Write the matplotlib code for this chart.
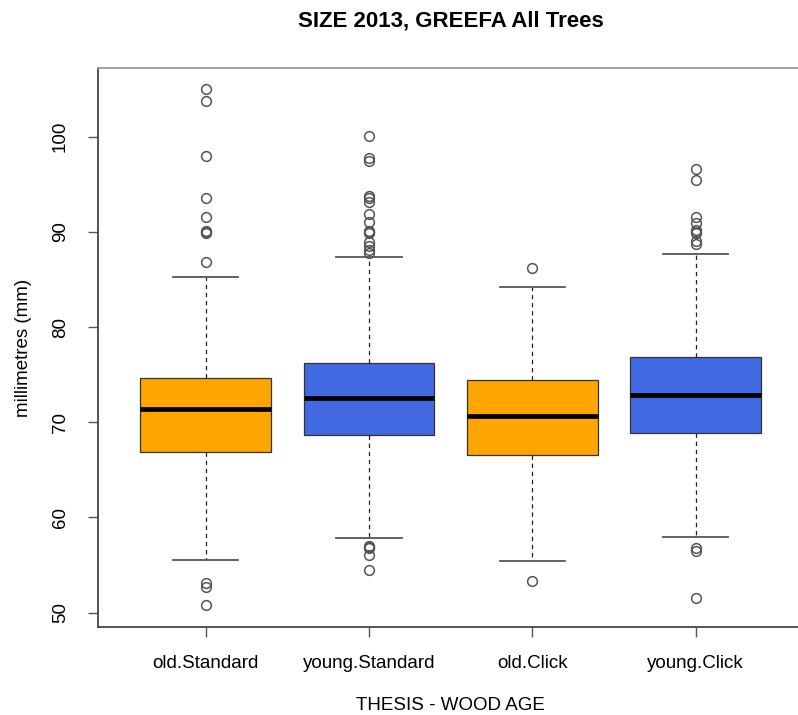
import matplotlib
matplotlib.use("Agg")
import matplotlib.pyplot as plt

plt.rcParams['font.family'] = ['Liberation Sans', 'DejaVu Sans']

# groups and colours
groups = ["old.Standard", "young.Standard", "old.Click", "young.Click"]
colors = ["#FFA500", "#4169E1", "#FFA500", "#4169E1"]

# box statistics (mm)
q1 = [66.9, 68.7, 66.6, 68.9]
med = [71.4, 72.5, 70.7, 72.9]
q3 = [74.6, 76.2, 74.4, 76.8]
whislo = [55.5, 57.8, 55.4, 57.9]
whishi = [85.2, 87.3, 84.2, 87.7]

# outliers
fliers = [
    [105.0, 103.7, 98.0, 93.6, 91.6, 90.0, 89.9, 90.1, 86.8, 53.1, 52.7, 50.8],
    [100.1, 97.7, 97.4, 93.8, 93.5, 93.1, 91.9, 91.0, 90.0, 89.9, 90.1,
     88.9, 88.5, 88.1, 87.8, 57.0, 56.9, 56.8, 56.1, 54.5],
    [86.2, 53.3],
    [96.6, 95.4, 91.6, 90.9, 90.2, 90.0, 89.9, 89.0, 88.7, 56.8, 56.5, 51.5],
]

stats = []
for i, g in enumerate(groups):
    stats.append(dict(label=g, q1=q1[i], med=med[i], q3=q3[i],
                      whislo=whislo[i], whishi=whishi[i], fliers=fliers[i]))

fig = plt.figure(figsize=(7.98, 7.15), dpi=100)
ax = fig.add_axes([0.1228, 0.1231, 0.884, 0.7818])

bp = ax.bxp(stats, positions=[1, 2, 3, 4], widths=0.8, patch_artist=True,
            boxprops=dict(edgecolor="#333333", linewidth=0.9),
            medianprops=dict(color="black", linewidth=3.4, solid_capstyle="butt"),
            whiskerprops=dict(color="#222222", linestyle=(0, (3.5, 3)), linewidth=0.9),
            capprops=dict(color="#555555", linewidth=1.3),
            flierprops=dict(marker="o", markerfacecolor="none", markeredgecolor="#555555",
                            markersize=7, markeredgewidth=1.1),
            capwidths=0.4)
for patch, c in zip(bp["boxes"], colors):
    patch.set_facecolor(c)

ax.set_xlim(0.34, 4.66)
ax.set_ylim(48.5, 107.2)
ax.set_yticks([50, 60, 70, 80, 90, 100])
ax.set_yticklabels(["50", "60", "70", "80", "90", "100"], rotation=90, va="center")
ax.tick_params(axis="both", labelsize=13.5, length=7, width=1, color="#555555")
ax.tick_params(axis="x", pad=13)
ax.tick_params(axis="y", pad=14)

for s in ["left", "bottom"]:
    ax.spines[s].set_color("#444444")
    ax.spines[s].set_linewidth(1.3)
for s in ["top", "right"]:
    ax.spines[s].set_color("#999999")
    ax.spines[s].set_linewidth(1.3)

ax.set_xlabel("THESIS - WOOD AGE", fontsize=13.5, labelpad=18)
ax.set_ylabel("millimetres (mm)", fontsize=13.5, labelpad=14)
ax.set_title("SIZE 2013, GREEFA All Trees", fontsize=16, fontweight="bold", pad=30)

fig.savefig("out.png", dpi=100)
